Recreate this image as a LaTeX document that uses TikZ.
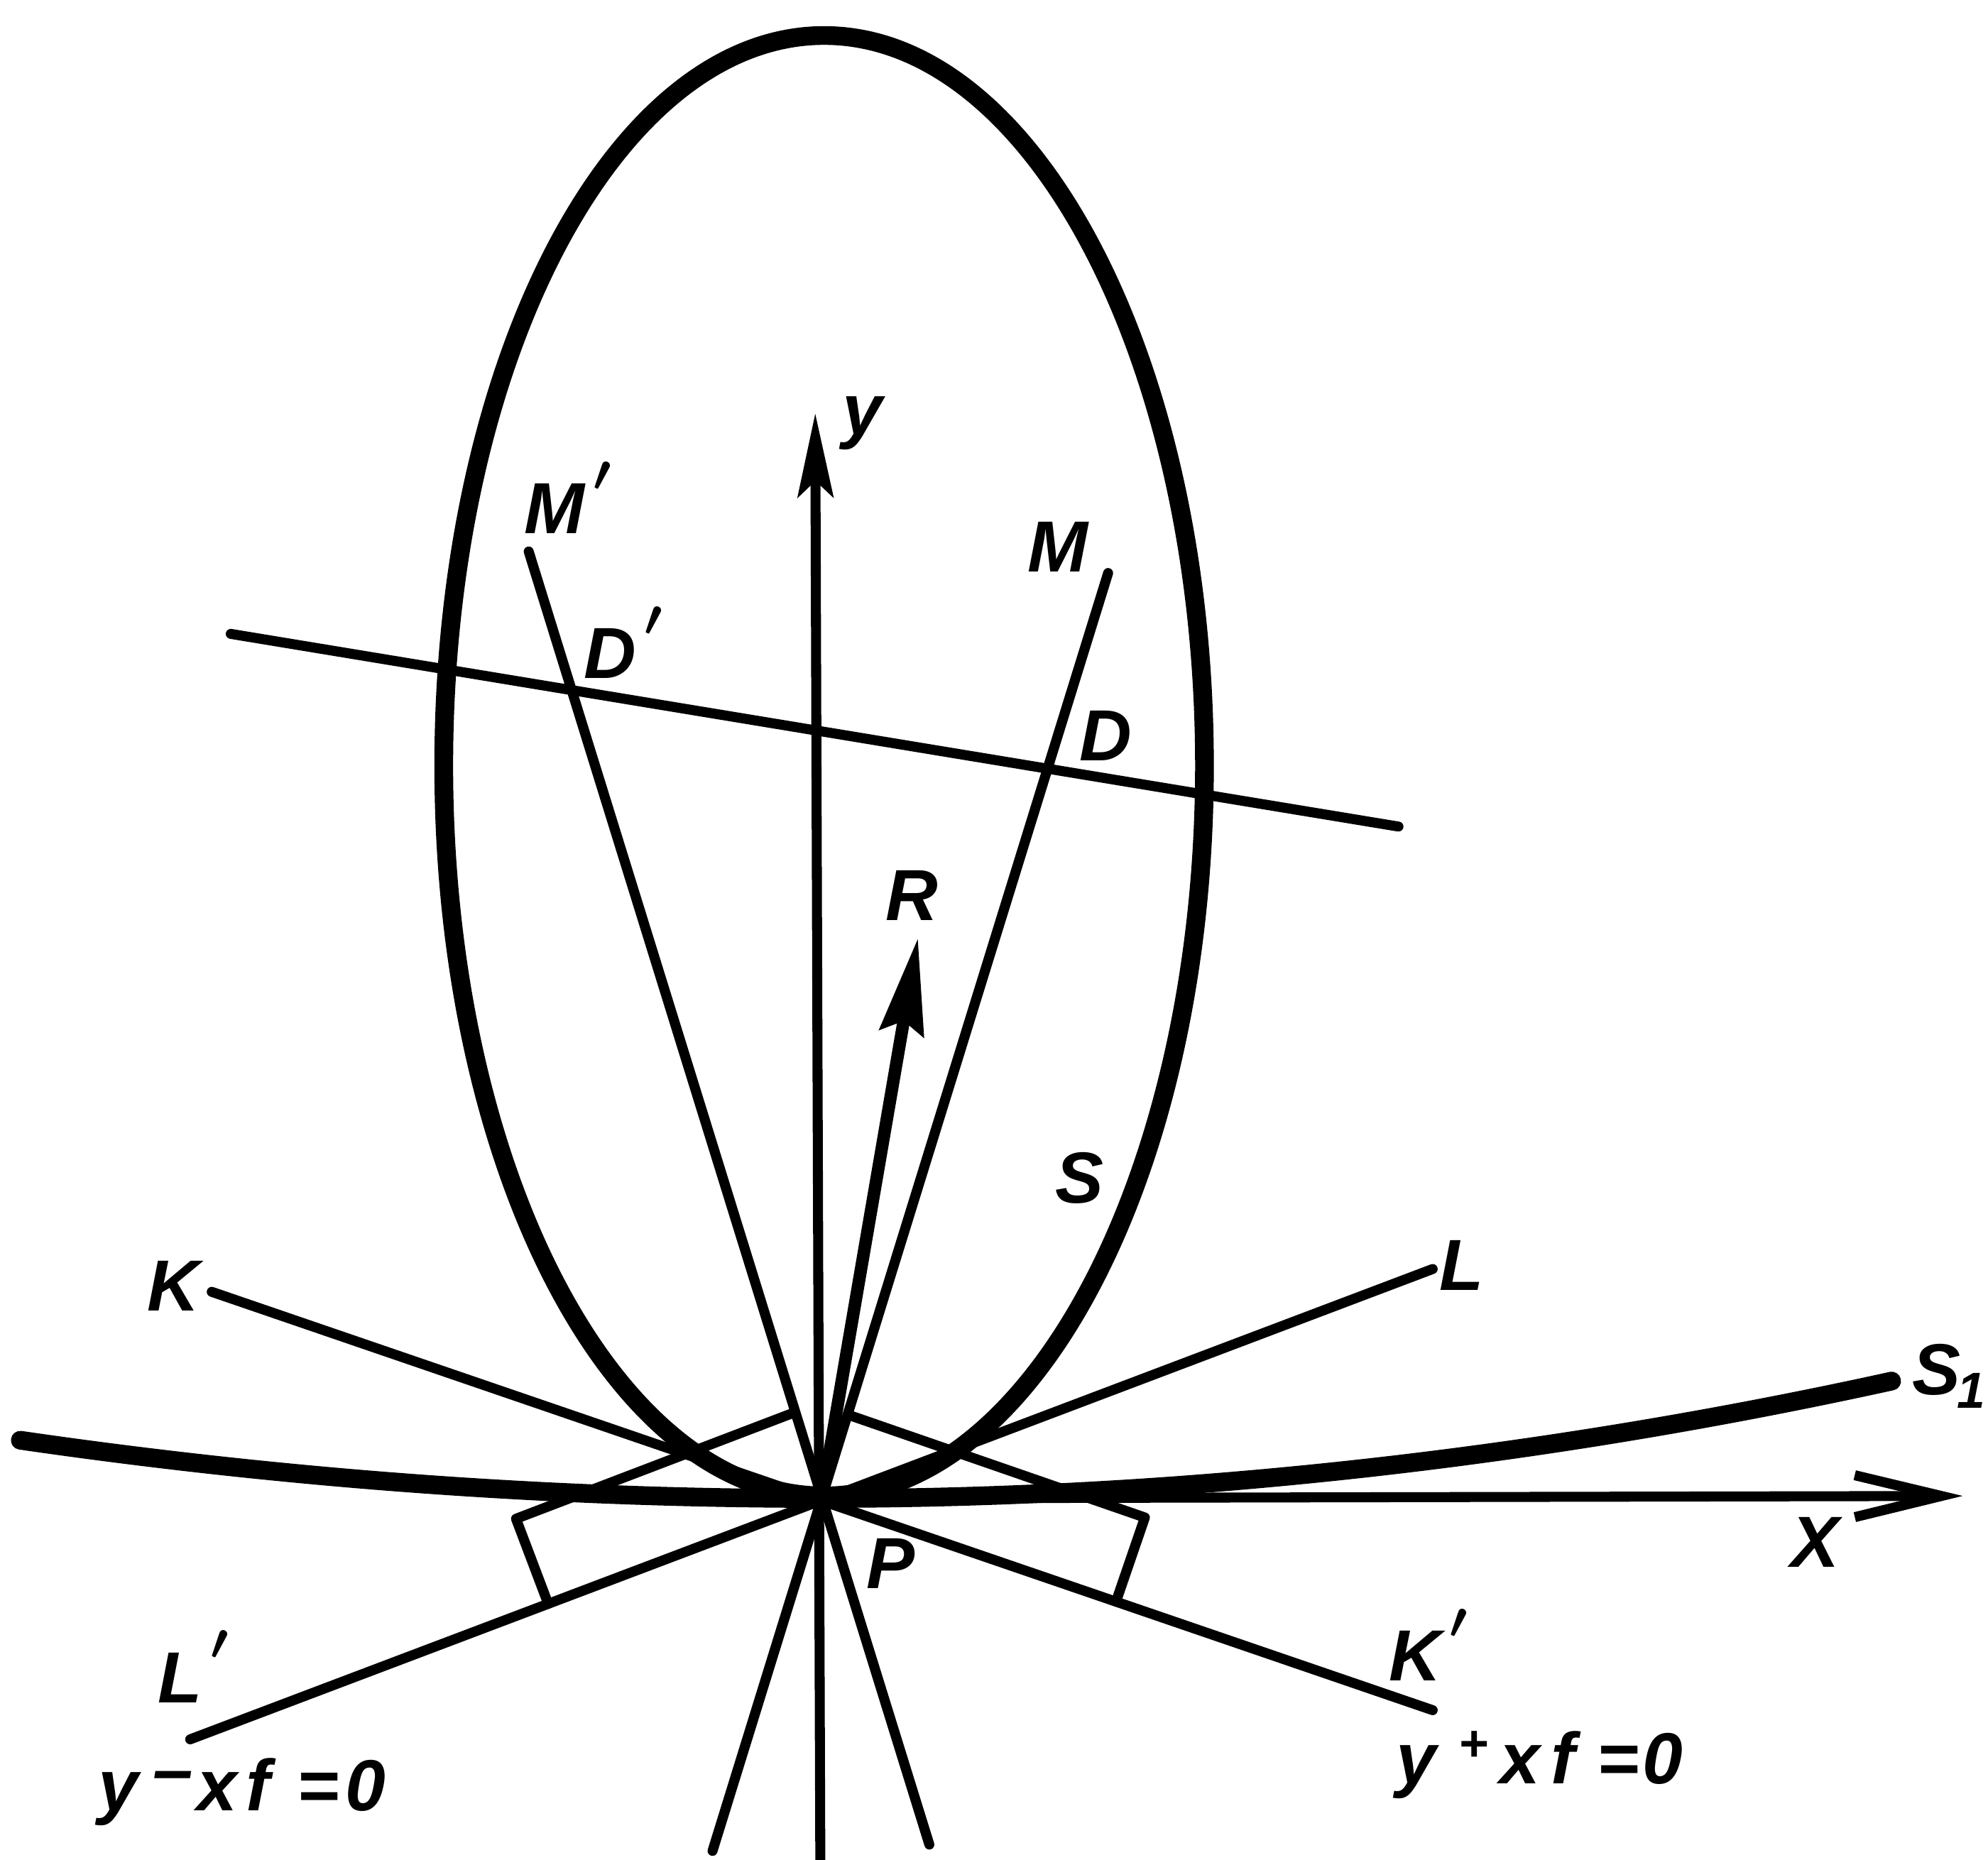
\documentclass[tikz,border=0pt]{standalone}
\usepackage{fontspec}
\setmainfont{Liberation Sans}
\usetikzlibrary{arrows.meta,calc}
\newcommand{\myprime}{\kern0.12em\raisebox{0.28em}{\boldmath$^{\prime}$}}
\begin{document}
\begin{tikzpicture}[x=0.017857cm, y=-0.017857cm,
  heavy/.style={line width=7.5pt, line cap=round},
  fine/.style={line width=4pt, line cap=round},
  lbl/.style={font=\fontsize{29}{32}\selectfont\bfseries\itshape, inner sep=0pt, anchor=base west},
]
\useasboundingbox (0,0) rectangle (1568,1467);
% key points
\coordinate (P) at (648,1182);
\coordinate (Ktip) at (167,1019);  \coordinate (Kp) at (1130,1349);
\coordinate (Ltip) at (1130,1001); \coordinate (Lp) at (150,1372);
\coordinate (Mtop) at (874,452);   \coordinate (Mbot) at (562,1460);
\coordinate (Mptop) at (417,435);  \coordinate (Mpbot) at (733,1455);
\coordinate (Ytop) at (643,326);   \coordinate (Ybot) at (647,1467);
\coordinate (Xtip) at (1548,1180);
\coordinate (Rtip) at (724,740);
\coordinate (T1) at (182,500);     \coordinate (T2) at (1103,652);
\coordinate (C1) at (407,1198);    \coordinate (C1e) at (627,1114);
\coordinate (C2) at (903,1197);    \coordinate (C2e) at (669,1116);

% cone lines, M lines, transversal
\draw[fine] (Ktip) -- (Kp);
\draw[fine] (Lp) -- (Ltip);
\draw[fine] (Mptop) -- (Mpbot);
\draw[fine] (Mtop) -- (Mbot);
\draw[fine] (T1) -- (T2);

% offset brackets
\draw[fine, line join=round] (C1e) -- (C1) -- ($(Lp)!(C1)!(Ltip)$);
\draw[fine, line join=round] (C2e) -- (C2) -- ($(Ktip)!(C2)!(Kp)$);

% axes
\draw[fine, -{Stealth[length=1.18cm, width=0.5cm, inset=0.23cm]}] (Ybot) -- (Ytop);
\draw[fine, -{Straight Barb[length=1.22cm, width=0.59cm]}] (P) -- (Xtip);

% force R
\draw[line width=5pt, -{Stealth[length=1.35cm, width=0.62cm, inset=0.17cm]}] (P) -- (Rtip);

% surface S (ellipse) and S1
\draw[heavy] (650,604) ellipse [x radius=300, y radius=576];
\draw[heavy] plot[domain=16:648, samples=30, smooth] (\x, {1182-1.15*((\x-648)/100)^2})
  -- plot[domain=648:1492, samples=40, smooth] (\x, {1182-1.3*((\x-648)/100)^2});

% labels
\node[lbl] (lK) at (116,1034) {K};
\node[lbl] (lL) at (1135,1018) {L};
\node[lbl] (lLp) at (124,1343) {L\myprime};
\node[lbl] (lKp) at (1095,1326) {K\myprime};
\node[lbl] (lX) at (1412,1236) {X};
\node[lbl] (lS1) at (1508,1100) {S\kern-0.05em\textsubscript{1}};
\node[lbl] (lS) at (832,949) {S};
\node[lbl] (lR) at (698,726) {R};
\node[lbl] (ly) at (664,343) {y};
\node[lbl] (lMp) at (413,421) {M\myprime};
\node[lbl] (lM) at (810,451) {M};
\node[lbl] (lDp) at (460,535) {D\myprime};
\node[lbl] (lD) at (851,600) {D};
\node[lbl] (lP) at (683,1253) {P};
\node[lbl] (eq1) at (77,1428) {y\kern0.2em\raisebox{0.22em}{\textendash}\kern0.05em x\kern0.12em f\kern0.38em=\kern0.08em0};
\node[lbl] (eq2) at (1101,1407) {y\kern0.3em\textsuperscript{+}\kern0.15em x\kern0.15em f\kern0.3em=\kern0.05em0};
\end{tikzpicture}
\end{document}
